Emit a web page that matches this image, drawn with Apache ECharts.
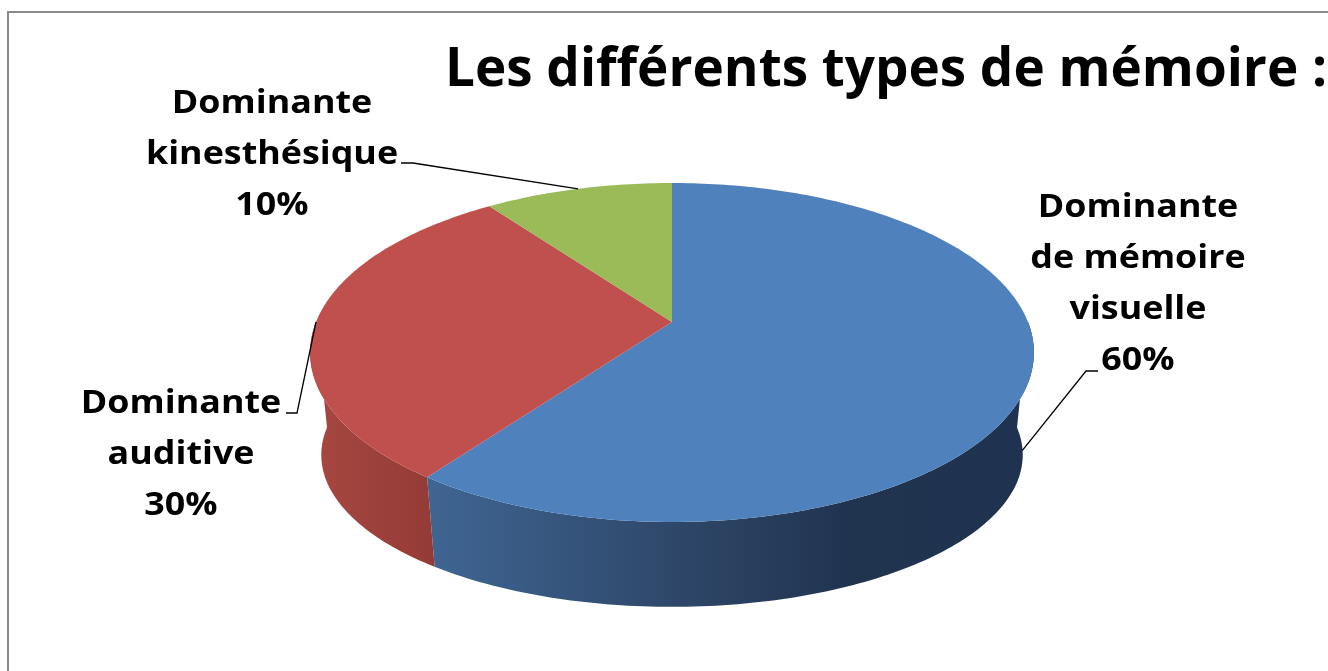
<!DOCTYPE html>
<html>
<head>
<meta charset="utf-8">
<script src="https://cdn.jsdelivr.net/npm/echarts@6/dist/echarts.min.js"></script>
<style>html,body{margin:0;padding:0;background:#fff}#chart{width:1328px;height:671px}</style>
</head>
<body>
<div id="chart"></div>
<script>
// ---- data ----
const titleText = 'Les différents types de mémoire :';
const categories = ['Dominante\nde mémoire\nvisuelle', 'Dominante\nauditive', 'Dominante\nkinesthésique'];
const values = [60, 30, 10];

// ---- layout / style ----
const topColors = ['#4F81BD', '#C0504D', '#9BBB59'];
const sideStops = [
  [[0, '#3F6592'], [0.48, '#2B4262'], [0.70, '#203450'], [1, '#1F3350']],
  [[0, '#A74741'], [1, '#953B37']],
  [[0, '#7E9A45'], [1, '#6E8A3A']]
];
const sideGrad = [[432, 1030], [310, 432], [300, 700]];
const P = { cx: 672, cy: 322, A: 356, B: 164, k: 0.18, Ab: 345, cyb: 427.6, Bb: 147, start: -90 };
const labelPos = [[1138, 182], [181, 378], [272, 78]];
const labelFont = { size: 32, scaleX: 1.12, lineHeight: 51 };
const leader = [
  { p: [[1098, 371], [1086, 371]], depth: 0.75 },
  { p: [[286, 413], [297, 413]], depth: 0 },
  { p: [[401, 163], [413, 163]], depth: 0 }
];

const total = values.reduce((a, b) => a + b, 0);
const rad = d => d * Math.PI / 180;
function topPt(t) {
  const s = Math.sin(rad(t)), c = Math.cos(rad(t)), w = 1 - P.k * s;
  return [P.cx + P.A * c / w, P.cy + P.B * s / w];
}
function botPt(t) {
  const s = Math.sin(rad(t)), c = Math.cos(rad(t)), w = 1 - P.k * s;
  return [P.cx + P.Ab * c / w, P.cyb + P.Bb * s / w];
}
function arc(fn, a0, a1) {
  const pts = [];
  const n = Math.max(2, Math.ceil(Math.abs(a1 - a0)));
  for (let i = 0; i <= n; i++) pts.push(fn(a0 + (a1 - a0) * i / n));
  return pts;
}

function renderItem(params, api) {
  const i = params.dataIndex;
  const v = api.value(0);
  let before = 0;
  for (let j = 0; j < i; j++) before += values[j];
  const a0 = P.start + before / total * 360;
  const a1 = a0 + v / total * 360;
  const children = [];
  // side (front visible part)
  const s0 = Math.max(a0, 0), s1 = Math.min(a1, 180);
  if (s1 > s0) {
    const pts = arc(topPt, s0, s1).concat(arc(botPt, s1, s0));
    const g = sideGrad[i];
    children.push({
      type: 'polygon', z2: 1,
      shape: { points: pts },
      style: {
        fill: new echarts.graphic.LinearGradient(g[0], 0, g[1], 0,
          sideStops[i].map(s => ({ offset: s[0], color: s[1] })), true)
      }
    });
  }
  // top face
  children.push({
    type: 'polygon', z2: 2,
    shape: { points: [[P.cx, P.cy]].concat(arc(topPt, a0, a1)) },
    style: { fill: topColors[i] }
  });
  // leader line
  const mid = (a0 + a1) / 2;
  const tp = topPt(mid), bp = botPt(mid), d = leader[i].depth;
  const anchor = [tp[0] + (bp[0] - tp[0]) * d, tp[1] + (bp[1] - tp[1]) * d];
  children.push({
    type: 'polyline', z2: 3,
    shape: { points: leader[i].p.concat([anchor]) },
    style: { stroke: '#000', lineWidth: 1.3, fill: null }
  });
  // label
  const pct = Math.round(v / total * 100) + '%';
  children.push({
    type: 'text', z2: 4,
    x: labelPos[i][0], y: labelPos[i][1], scaleX: labelFont.scaleX,
    style: {
      text: categories[i] + '\n' + pct,
      x: 0, y: 0,
      fill: '#000',
      font: 'bold ' + labelFont.size + 'px "Open Sans"',
      lineHeight: labelFont.lineHeight,
      align: 'center', verticalAlign: 'top'
    }
  });
  return { type: 'group', children };
}

const chart = echarts.init(document.getElementById('chart'), null, { renderer: 'canvas' });
chart.setOption({
  animation: false,
  backgroundColor: '#fff',
  graphic: [
    { type: 'rect', z: -1, shape: { x: 8, y: 12, width: 1500, height: 900 },
      style: { fill: '#fff', stroke: '#8A8A8A', lineWidth: 2 } },
    { type: 'text', x: 445, y: 44, style: {
      text: titleText, x: 0, y: 0, fill: '#000',
      font: 'bold 53px "Open Sans"', align: 'left', verticalAlign: 'top' } }
  ],
  series: [{
    type: 'custom',
    coordinateSystem: 'none',
    renderItem: renderItem,
    data: values
  }]
});
</script>
</body>
</html>
